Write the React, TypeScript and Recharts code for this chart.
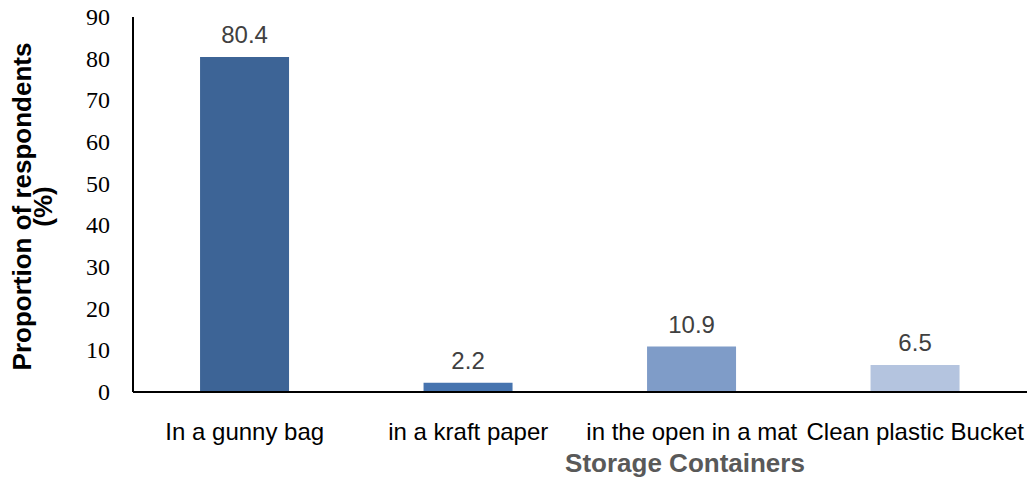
import { BarChart, Bar, XAxis, YAxis, Cell, LabelList } from 'recharts';

const categories = ['In a gunny bag', 'in a kraft paper', 'in the open in a mat', 'Clean plastic Bucket'];
const proportions = [80.4, 2.2, 10.9, 6.5];
const barColors = ['#3d6496', '#4774af', '#7f9cc8', '#b4c4df'];
const yTicks = [0, 10, 20, 30, 40, 50, 60, 70, 80, 90];

const data = categories.map((name, i) => ({ name, value: proportions[i] }));

const sans = 'Liberation Sans, Arial, sans-serif';
const serif = 'Times New Roman, Liberation Serif, serif';

function YTitle({ viewBox }: any) {
  const cy = viewBox.y + viewBox.height / 2 + 2;
  return (
    <g transform={`rotate(-90, 0, ${cy})`}>
      <text x={0} y={cy} textAnchor="middle" fontFamily={sans} fontWeight="bold" fontSize={26} fill="#000">
        <tspan x={0} y={cy + 31}>Proportion of respondents</tspan>
        <tspan x={0} y={cy + 52}>(%)</tspan>
      </text>
    </g>
  );
}

function XTitle({ viewBox }: any) {
  const cx = viewBox.x + viewBox.width / 2 + 105;
  return (
    <text x={cx} y={472} textAnchor="middle" fontFamily={sans} fontWeight="bold" fontSize={26} fill="#595959">
      Storage Containers
    </text>
  );
}

function YTick({ x, y, payload }: any) {
  return (
    <g transform={`translate(${x},${y})`}>
      <text x={0} y={0} dy={8} textAnchor="end" style={{ fontFamily: serif, fontSize: 24 }} fill="#000">
        {String(payload.value)}
      </text>
    </g>
  );
}

export default function App() {
  return (
    <div style={{ position: 'absolute', left: 0, top: 0, background: '#fff' }}>
      <BarChart width={1027} height={477} data={data} margin={{ top: 17, right: 0, left: 0, bottom: 0 }} barCategoryGap="30%">
        <XAxis
          dataKey="name"
          height={85}
          interval={0}
          tickLine={false}
          tickSize={0}
          tickMargin={31}
          axisLine={{ stroke: '#000', strokeWidth: 2 }}
          tick={{ fontFamily: sans, fontSize: 24, fill: '#000' }}
          label={<XTitle />}
        />
        <YAxis
          width={133}
          domain={[0, 90]}
          ticks={yTicks}
          interval={0}
          tickLine={false}
          tickSize={0}
          tickMargin={23}
          axisLine={{ stroke: '#000', strokeWidth: 2 }}
          tick={YTick}
          label={<YTitle />}
        />
        <Bar dataKey="value" isAnimationActive={false}>
          {data.map((d, i) => (
            <Cell key={d.name} fill={barColors[i]} />
          ))}
          <LabelList dataKey="value" position="top" offset={14} fill="#404040" fontFamily={sans} fontSize={24} />
        </Bar>
      </BarChart>
    </div>
  );
}
